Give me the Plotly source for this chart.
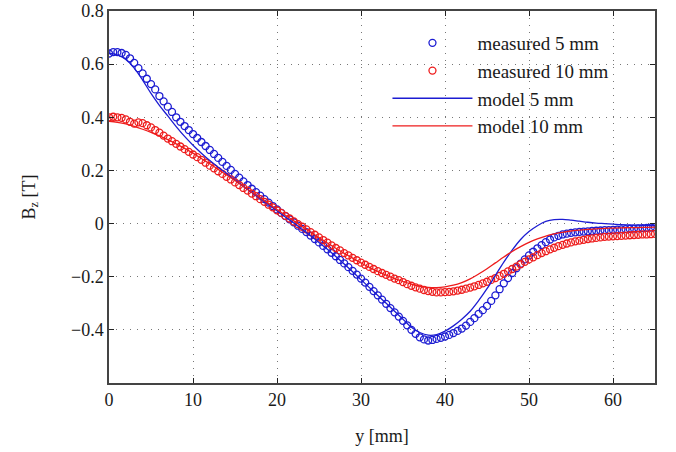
import plotly.graph_objects as go

# measured samples every 0.5 mm, 0..65 mm
y_meas = [i * 0.5 for i in range(131)]

bz_meas_5 = [
    0.640, 0.645, 0.645, 0.642, 0.635, 0.622, 0.605, 0.585, 0.565, 0.545,
    0.525, 0.505, 0.480, 0.460, 0.440, 0.420, 0.400, 0.383, 0.367, 0.352,
    0.337, 0.322, 0.307, 0.292, 0.277, 0.262, 0.247, 0.232, 0.217, 0.202,
    0.187, 0.173, 0.159, 0.145, 0.131, 0.118, 0.105, 0.092, 0.079, 0.066,
    0.053, 0.040, 0.028, 0.016, 0.005, -0.008, -0.020, -0.032, -0.045, -0.058,
    -0.071, -0.084, -0.097, -0.110, -0.123, -0.137, -0.150, -0.164, -0.178, -0.192,
    -0.207, -0.222, -0.238, -0.254, -0.270, -0.286, -0.302, -0.318, -0.334, -0.350,
    -0.366, -0.383, -0.400, -0.415, -0.428, -0.436, -0.440, -0.438, -0.434, -0.430,
    -0.425, -0.419, -0.412, -0.404, -0.395, -0.384, -0.370, -0.356, -0.340, -0.326,
    -0.310, -0.291, -0.270, -0.247, -0.225, -0.205, -0.186, -0.168, -0.151, -0.135,
    -0.120, -0.106, -0.093, -0.081, -0.070, -0.060, -0.052, -0.046, -0.041, -0.038,
    -0.035, -0.033, -0.031, -0.030, -0.029, -0.028, -0.027, -0.026, -0.025, -0.025,
    -0.024, -0.023, -0.022, -0.021, -0.020, -0.019, -0.018, -0.017, -0.016, -0.015,
    -0.014,
]

bz_meas_10 = [
    0.400, 0.402, 0.400, 0.398, 0.392, 0.383, 0.376, 0.381, 0.378, 0.370,
    0.362, 0.352, 0.342, 0.331, 0.320, 0.310, 0.300, 0.290, 0.280, 0.270,
    0.260, 0.250, 0.240, 0.229, 0.218, 0.208, 0.197, 0.187, 0.176, 0.166,
    0.155, 0.145, 0.134, 0.124, 0.113, 0.103, 0.092, 0.082, 0.071, 0.061,
    0.050, 0.040, 0.029, 0.019, 0.008, -0.002, -0.012, -0.022, -0.032, -0.042,
    -0.052, -0.062, -0.072, -0.082, -0.092, -0.101, -0.111, -0.120, -0.129, -0.138,
    -0.147, -0.155, -0.163, -0.171, -0.179, -0.186, -0.193, -0.200, -0.207, -0.213,
    -0.220, -0.228, -0.234, -0.240, -0.245, -0.250, -0.254, -0.257, -0.259, -0.259,
    -0.258, -0.257, -0.255, -0.252, -0.249, -0.245, -0.241, -0.236, -0.231, -0.225,
    -0.219, -0.212, -0.205, -0.197, -0.189, -0.180, -0.171, -0.162, -0.153, -0.144,
    -0.135, -0.127, -0.119, -0.111, -0.104, -0.097, -0.091, -0.085, -0.080, -0.075,
    -0.071, -0.067, -0.064, -0.061, -0.058, -0.056, -0.054, -0.052, -0.050, -0.049,
    -0.048, -0.047, -0.046, -0.045, -0.044, -0.043, -0.042, -0.041, -0.041, -0.040,
    -0.039,
]

# model curves, every 1 mm
y_model = list(range(66))

bz_model_5 = [
    0.640, 0.635, 0.618, 0.585, 0.540, 0.490, 0.445, 0.405, 0.365, 0.328,
    0.295, 0.265, 0.237, 0.212, 0.188, 0.164, 0.140, 0.117, 0.094, 0.071,
    0.048, 0.025, 0.002, -0.022, -0.046, -0.071, -0.097, -0.124, -0.152, -0.181,
    -0.211, -0.241, -0.271, -0.300, -0.330, -0.360, -0.390, -0.410, -0.420, -0.418,
    -0.405, -0.385, -0.360, -0.330, -0.290, -0.245, -0.195, -0.145, -0.100, -0.060,
    -0.030, -0.008, 0.008, 0.015, 0.016, 0.013, 0.009, 0.005, 0.002, 0.000,
    -0.002, -0.004, -0.005, -0.006, -0.007, -0.008,
]

bz_model_10 = [
    0.385, 0.381, 0.375, 0.366, 0.355, 0.343, 0.330, 0.316, 0.300, 0.283,
    0.265, 0.245, 0.225, 0.204, 0.183, 0.162, 0.140, 0.118, 0.097, 0.075,
    0.053, 0.031, 0.010, -0.011, -0.032, -0.053, -0.073, -0.093, -0.112, -0.130,
    -0.148, -0.165, -0.180, -0.194, -0.207, -0.218, -0.228, -0.236, -0.240, -0.241,
    -0.238, -0.232, -0.222, -0.208, -0.190, -0.170, -0.148, -0.126, -0.105, -0.087,
    -0.071, -0.058, -0.047, -0.039, -0.033, -0.028, -0.025, -0.022, -0.020, -0.018,
    -0.017, -0.016, -0.015, -0.015, -0.014, -0.013,
]

x_ticks = [0, 10, 20, 30, 40, 50, 60]
y_ticks = [-0.4, -0.2, 0, 0.2, 0.4, 0.6, 0.8]
y_ticktext = ["\u22120.4", "\u22120.2", "0", "0.2", "0.4", "0.6", "0.8"]

BLUE = "#1c1cd2"
RED = "#ee1c1c"
SERIF = "Liberation Serif, Times New Roman, serif"
TXT = "#1a1a1a"

fig = go.Figure()
fig.add_trace(go.Scatter(x=y_meas, y=bz_meas_5, mode="markers", name="measured 5 mm",
                         marker=dict(symbol="circle-open", size=7, color=BLUE,
                                     line=dict(width=1.3, color=BLUE))))
fig.add_trace(go.Scatter(x=y_meas, y=bz_meas_10, mode="markers", name="measured 10 mm",
                         marker=dict(symbol="circle-open", size=7, color=RED,
                                     line=dict(width=1.3, color=RED))))
fig.add_trace(go.Scatter(x=y_model, y=bz_model_5, mode="lines", name="model 5 mm",
                         line=dict(color=BLUE, width=1.3, shape="spline")))
fig.add_trace(go.Scatter(x=y_model, y=bz_model_10, mode="lines", name="model 10 mm",
                         line=dict(color=RED, width=1.3, shape="spline")))

axis_common = dict(
    showline=True, mirror="ticks", linecolor="#444", linewidth=1.5,
    ticks="inside", ticklen=5, tickcolor="#222",
    showgrid=True, gridcolor="#777", griddash="1px,6px", gridwidth=1.2,
    zeroline=False, automargin=False, ticklabeloverflow="allow",
    tickfont=dict(family=SERIF, size=18, color=TXT),
)

fig.update_xaxes(range=[0, 65], tickvals=x_ticks,
                 title=dict(text="y [mm]", font=dict(family=SERIF, size=18, color=TXT), standoff=20),
                 **axis_common)
fig.update_yaxes(range=[-0.6, 0.8], tickvals=y_ticks, ticktext=y_ticktext,
                 title=dict(text="B<sub>z</sub> [T]", font=dict(family=SERIF, size=18, color=TXT), standoff=31),
                 **axis_common)

fig.update_layout(
    width=676, height=452,
    margin=dict(l=109, r=21, t=11, b=69),
    paper_bgcolor="white", plot_bgcolor="white",
    legend=dict(x=0.51, y=0.965, xanchor="left", yanchor="top",
                bgcolor="rgba(0,0,0,0)", itemwidth=80, tracegroupgap=0,
                font=dict(family=SERIF, size=19, color=TXT)),
)

# drop the default 8px page margin so the figure sits at the window corner
fig.write_html("out.html", config={"displayModeBar": False},
               post_script="document.body.style.margin = '0';")
